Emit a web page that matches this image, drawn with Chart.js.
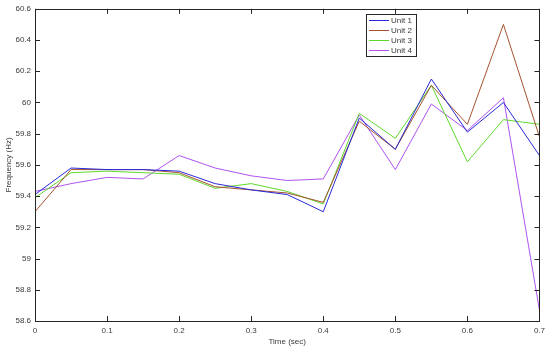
<!DOCTYPE html>
<html>
<head>
<meta charset="utf-8">
<script src="https://cdn.jsdelivr.net/npm/chart.js@4/dist/chart.umd.min.js"></script>
<style>
    body { margin: 0; background: #fff; }
    #wrap { width: 550px; height: 351px; }
</style>
</head>
<body>
<div id="wrap"><canvas id="freq-chart" width="550" height="351"></canvas></div>
<script>
/* sample data */
const times = [0, 0.05, 0.1, 0.15, 0.2, 0.25, 0.3, 0.35, 0.4, 0.45, 0.5, 0.55, 0.6, 0.65, 0.7];
const unitLabels = ["Unit 1", "Unit 2", "Unit 3", "Unit 4"];
const unit1 = [59.41, 59.58, 59.57, 59.57, 59.56, 59.48, 59.44, 59.41, 59.30, 59.90, 59.70, 60.15, 59.81, 60.00, 59.66];
const unit2 = [59.30, 59.57, 59.57, 59.57, 59.55, 59.46, 59.44, 59.42, 59.36, 59.88, 59.70, 60.11, 59.86, 60.50, 59.78];
const unit3 = [59.39, 59.55, 59.56, 59.55, 59.54, 59.45, 59.48, 59.43, 59.35, 59.93, 59.77, 60.11, 59.62, 59.89, 59.86];
const unit4 = [59.43, 59.48, 59.52, 59.51, 59.66, 59.58, 59.53, 59.50, 59.51, 59.92, 59.57, 59.99, 59.82, 60.03, 58.67];
const unitColors = ["#2a2ad8", "#a5532e", "#5fd82c", "#b152f2"];

const series = [unit1, unit2, unit3, unit4];
const fontName = "'Liberation Sans', Arial, sans-serif";
const textColor = "#3a3a3a";

const datasets = series.map((values, i) => ({
    label: unitLabels[i],
    data: values.map((v, k) => ({ x: times[k], y: v })),
    borderColor: unitColors[i],
    backgroundColor: unitColors[i],
    borderWidth: 1,
    pointRadius: 0,
    tension: 0
}));

// matlab style box with inward ticks + legend inside the axes
const boxPlugin = {
    id: "boxPlugin",
    afterDraw(chart) {
        const ctx = chart.ctx;
        const a = chart.chartArea;
        const xs = chart.scales.x;
        const ys = chart.scales.y;
        ctx.save();
        ctx.strokeStyle = "#262626";
        ctx.lineWidth = 1;
        ctx.strokeRect(Math.round(a.left) + 0.5, Math.round(a.top) + 0.5,
            Math.round(a.right - a.left), Math.round(a.bottom - a.top));

        ctx.beginPath();
        xs.ticks.forEach(t => {
            const px = Math.round(xs.getPixelForValue(t.value)) + 0.5;
            ctx.moveTo(px, a.bottom); ctx.lineTo(px, a.bottom - 5);
            ctx.moveTo(px, a.top); ctx.lineTo(px, a.top + 5);
        });
        ys.ticks.forEach(t => {
            const py = Math.round(ys.getPixelForValue(t.value)) + 0.5;
            ctx.moveTo(a.left, py); ctx.lineTo(a.left + 5, py);
            ctx.moveTo(a.right, py); ctx.lineTo(a.right - 5, py);
        });
        ctx.stroke();

        // legend
        const lx = 366, ly = 14, lw = 50, lh = 42;
        ctx.fillStyle = "#fff";
        ctx.fillRect(lx, ly, lw, lh);
        ctx.strokeStyle = "#262626";
        ctx.strokeRect(lx + 0.5, ly + 0.5, lw, lh);
        ctx.font = "8px " + fontName;
        ctx.textBaseline = "middle";
        chart.data.datasets.forEach((ds, i) => {
            const rowY = ly + 6 + i * 10;
            ctx.strokeStyle = ds.borderColor;
            ctx.beginPath();
            ctx.moveTo(lx + 3, rowY + 0.5);
            ctx.lineTo(lx + 23, rowY + 0.5);
            ctx.stroke();
            ctx.fillStyle = textColor;
            ctx.fillText(ds.label, lx + 25, rowY + 1);
        });
        ctx.restore();
    }
};

const trimNumber = v => String(+Number(v).toFixed(2));

const freqChart = new Chart(document.getElementById("freq-chart"), {
    type: "line",
    data: { datasets: datasets },
    options: {
        responsive: false,
        animation: false,
        layout: { padding: { top: 6, right: 10, left: 4, bottom: 4 } },
        plugins: {
            legend: { display: false },
            tooltip: { enabled: false }
        },
        scales: {
            x: {
                type: "linear",
                min: 0,
                max: 0.7,
                grid: { display: false, drawTicks: false },
                border: { display: false },
                ticks: {
                    stepSize: 0.1,
                    padding: 5,
                    color: textColor,
                    font: { family: fontName, size: 8 },
                    maxRotation: 0,
                    callback: trimNumber
                },
                title: {
                    display: true,
                    text: "Time (sec)",
                    color: textColor,
                    padding: { top: 1, bottom: 0 },
                    font: { family: fontName, size: 8 }
                },
                afterFit(scale) { scale.height = 26; }
            },
            y: {
                min: 58.6,
                max: 60.6,
                grid: { display: false, drawTicks: false },
                border: { display: false },
                ticks: {
                    stepSize: 0.2,
                    padding: 4,
                    color: textColor,
                    font: { family: fontName, size: 8 },
                    callback: trimNumber
                },
                title: {
                    display: true,
                    text: "Frequency (Hz)",
                    color: textColor,
                    padding: { top: 0, bottom: 2 },
                    font: { family: fontName, size: 8 }
                },
                afterFit(scale) { scale.width = 31; }
            }
        }
    },
    plugins: [boxPlugin]
});
</script>
</body>
</html>
